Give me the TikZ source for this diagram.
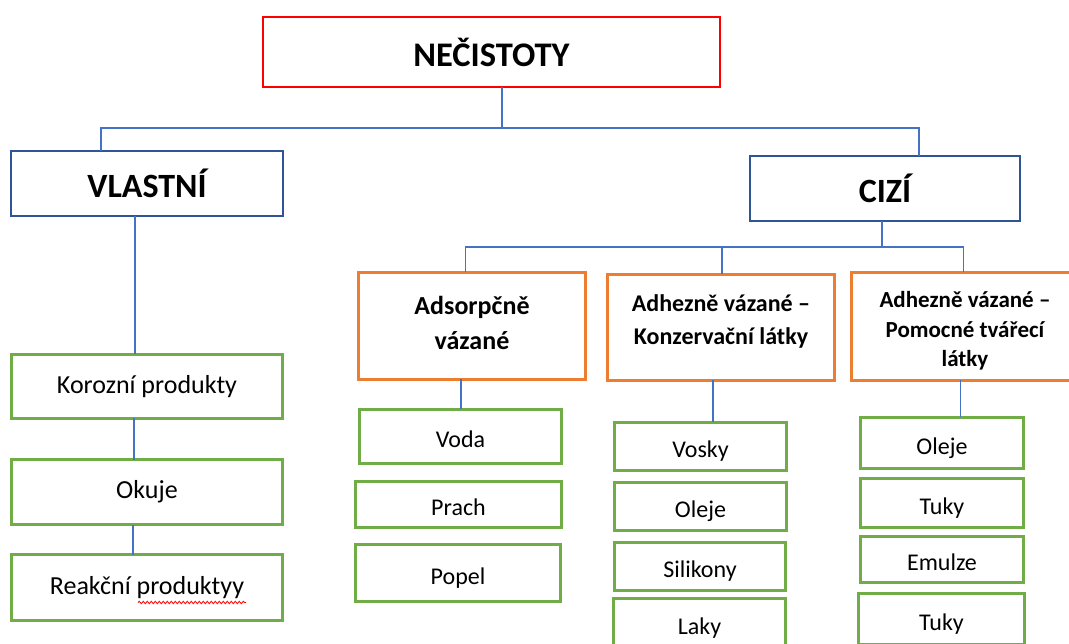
\documentclass[tikz,border=0pt]{standalone}
\usepackage{fontspec}
\setmainfont{Carlito}
\usetikzlibrary{decorations.pathmorphing}
\definecolor{cred}{HTML}{FF0000}
\definecolor{cblue}{HTML}{2F5597}
\definecolor{corange}{HTML}{ED7D31}
\definecolor{cgreen}{HTML}{70AD47}
\definecolor{cline}{HTML}{4472C4}
\tikzset{
  box/.style={draw, rectangle, inner sep=0pt, outer sep=0pt, align=center, text=black},
  topbox/.style={box, draw=cred, line width=2pt, font=\fontsize{34.5}{40}\selectfont\bfseries},
  midbox/.style={box, draw=cblue, line width=2.5pt, font=\fontsize{34}{40}\selectfont\bfseries},
  catbox/.style={box, draw=corange, line width=3pt},
  cattext/.style={align=center, inner sep=0pt, text=black, font=\fontsize{24}{33}\selectfont\bfseries},
  leafbox/.style={box, draw=cgreen, line width=3pt, font=\fontsize{24}{28}\selectfont, text height=25pt, text depth=3pt},
  bigleaf/.style={box, draw=cgreen, line width=3pt, font=\fontsize{26}{30}\selectfont},
  conn/.style={draw=cline, line width=1.1pt},
}
\begin{document}
\begin{tikzpicture}[x=1pt,y=-1pt]
\useasboundingbox (0,0) rectangle (1069,644);
\clip (0,0) rectangle (1069,644);
\fill[white] (0,0) rectangle (1069,644);

% top level
\node[topbox, minimum width=457pt, minimum height=70pt, text height=32pt, text depth=2pt] (top) at (491.5,52) {NEČISTOTY};
\node[midbox, minimum width=272pt, minimum height=65pt] (vl) at (147,183.5) {VLASTNÍ};
\node[midbox, minimum width=270pt, minimum height=65pt] (ci) at (885,188.5) {CIZÍ};

% left column
\node[bigleaf, minimum width=271pt, minimum height=64pt] (kor) at (147,386.5) {Korozní produkty};
\node[bigleaf, minimum width=271pt, minimum height=65pt] (oku) at (147,492) {Okuje};
\node[bigleaf, minimum width=271pt, minimum height=66pt] (rea) at (147,587.5) {Reakční produktyy};

% categories
\node[catbox, minimum width=227pt, minimum height=107pt] (o1) at (472,326) {};
\node[cattext, font=\fontsize{26}{35}\selectfont\bfseries] (o1t) at (472,322.5) {Adsorpčně\\vázané};
\node[catbox, minimum width=227pt, minimum height=106pt] (o2) at (721,327.5) {};
\node[cattext] (o2t) at (721,321.5) {Adhezně vázané –\\Konzervační látky};
\node[catbox, minimum width=227pt, minimum height=108pt] (o3) at (965,326.5) {};
\node[cattext, font=\fontsize{23}{29.5}\selectfont\bfseries] (o3t) at (965,331) {Adhezně vázané –\\Pomocné tvářecí\\látky};

% column 1
\node[leafbox, minimum width=202pt, minimum height=54pt] (voda) at (460.5,436.5) {Voda};
\node[leafbox, minimum width=206pt, minimum height=46pt] (prach) at (458.5,504.5) {Prach};
\node[leafbox, minimum width=205pt, minimum height=57pt] (popel) at (458,573) {Popel};

% column 2
\node[leafbox, minimum width=172pt, minimum height=48pt] (vosky) at (700.5,446.5) {Vosky};
\node[leafbox, minimum width=172pt, minimum height=48pt] (oleje) at (700.5,506.5) {Oleje};
\node[leafbox, minimum width=171pt, minimum height=48pt] (silik) at (700,566.5) {Silikony};
\node[leafbox, minimum width=172pt, minimum height=50pt] (laky) at (699.5,623) {Laky};

% column 3
\node[leafbox, minimum width=163pt, minimum height=51pt] (olej2) at (942,443) {Oleje};
\node[leafbox, minimum width=163pt, minimum height=49pt] (tuky) at (942,503) {Tuky};
\node[leafbox, minimum width=163pt, minimum height=46pt] (emul) at (942,559.5) {Emulze};
\node[leafbox, minimum width=166pt, minimum height=51pt] (tuky2) at (941.5,619) {Tuky};

% connectors
\coordinate (j1) at (502,128);
\draw[conn] ([xshift=10.5pt]top.south) -- (j1);
\draw[conn] ([xshift=90pt]vl.north west) |- (j1) -| ([xshift=34pt]ci.north);
\coordinate (j2) at (882,247);
\draw[conn] ([xshift=-3pt]ci.south) -- (j2);
\draw[conn] ([xshift=107pt]o1.north west) |- (j2) -| ([xshift=112pt]o3.north west);
\draw[conn] ([xshift=1pt]o2.north) -- ([xshift=1pt]o2.north |- j2);
\draw[conn] ([xshift=-11pt]o1.south) -- ([xshift=-11pt]o1.south |- voda.north);
\draw[conn] ([xshift=-8pt]o2.south) -- ([xshift=-8pt]o2.south |- vosky.north);
\draw[conn] ([xshift=109pt]o3.south west) -- ([xshift=109pt]o3.south west |- olej2.north);
\draw[conn] ([xshift=-12pt]vl.south) -- ([xshift=-12pt]vl.south |- kor.north);
\draw[conn] ([xshift=-13pt]kor.south) -- ([xshift=-13pt]kor.south |- oku.north);
\draw[conn] ([xshift=-14pt]oku.south) -- ([xshift=-14pt]oku.south |- rea.north);

% spell-check underline
\draw[cred, line width=0.8pt, decorate, decoration={snake, segment length=4pt, amplitude=1.2pt}]
  ([xshift=-9pt,yshift=18pt]rea.south) -- ([xshift=99pt,yshift=18pt]rea.south);
\end{tikzpicture}
\end{document}
